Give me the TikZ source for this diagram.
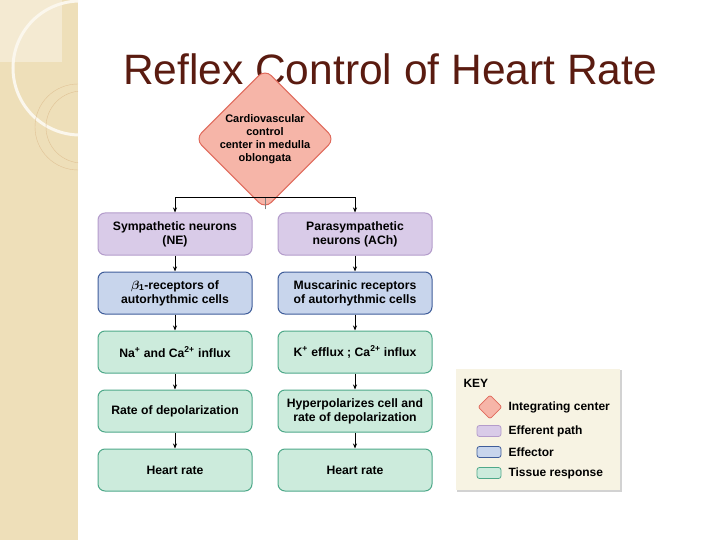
\documentclass[tikz,border=0pt]{standalone}
\usepackage{bm}
\usepackage{fontspec}
\setmainfont{Liberation Sans}
\usetikzlibrary{shapes.geometric,arrows.meta}
\definecolor{pfill}{HTML}{D9CBE8}\definecolor{pdraw}{HTML}{B49CCB}
\definecolor{bfill}{HTML}{C8D5EC}\definecolor{bdraw}{HTML}{3F5D9A}
\definecolor{gfill}{HTML}{CCEBDC}\definecolor{gdraw}{HTML}{4FA98A}
\definecolor{dfill}{HTML}{F6B5A8}\definecolor{ddraw}{HTML}{E06A5C}
\definecolor{beige}{HTML}{EEDFB9}\definecolor{title}{HTML}{5A1B10}
\definecolor{keybg}{HTML}{F7F3E3}
\begin{document}
\begin{tikzpicture}[x=1pt,y=-1pt,
 box/.style={rounded corners=7pt,line width=1pt,minimum width=154pt,minimum height=42pt,align=center,font=\bfseries\fontsize{12.2}{14}\selectfont,inner sep=1pt},
 eff/.style={box,fill=pfill,draw=pdraw},
 efr/.style={box,fill=bfill,draw=bdraw},
 tis/.style={box,fill=gfill,draw=gdraw},
 arr/.style={-{Stealth[length=5pt,width=4pt]},line width=0.7pt},
 ks/.style={rounded corners=2.5pt,line width=0.8pt,minimum width=24pt,minimum height=11pt,inner sep=0pt},
 kt/.style={anchor=west,font=\bfseries\fontsize{12}{14}\selectfont}]
\useasboundingbox (0,0) rectangle (720,540);
\fill[white] (0,0) rectangle (720,540);
\fill[beige] (0,0) rectangle (78,540);
\begin{scope}
\clip (0,0) rectangle (78,540);
\fill[white!35!beige] (0,0) rectangle (62,62);
\draw[white!75!beige,line width=3pt] (80,68) circle (67);
\draw[beige!70!brown,line width=0.4pt] (78,127) circle (43);
\draw[beige!70!brown,line width=0.4pt] (82,127) circle (36);
\end{scope}
\node[text=title,font=\fontsize{42.5}{48}\selectfont] (t) at (390,69) {Reflex Control of Heart Rate};
\node[diamond,fill=dfill,draw=ddraw,line width=1pt,rounded corners=9pt,minimum width=130pt,minimum height=104pt,inner sep=0pt,align=center,font=\bfseries\fontsize{11}{13}\selectfont] (d) at (265,139) {Cardiovascular\\control\\center in medulla\\oblongata};
\node[eff] (a1) at (175,234) {Sympathetic neurons\\(NE)};
\node[eff] (b1) at (355,234) {Parasympathetic\\neurons (ACh)};
\node[efr] (a2) at (175,293) {$\bm\beta_{\mathbf 1}$-receptors of\\autorhythmic cells};
\node[efr] (b2) at (355,293) {Muscarinic receptors\\of autorhythmic cells};
\node[tis] (a3) at (175,352) {Na\textsuperscript{+} and Ca\textsuperscript{2+} influx};
\node[tis] (b3) at (355,352) {K\textsuperscript{+} efflux ; Ca\textsuperscript{2+} influx};
\node[tis] (a4) at (175,411) {Rate of depolarization};
\node[tis] (b4) at (355,411) {Hyperpolarizes cell and\\rate of depolarization};
\node[tis] (a5) at (175,470) {Heart rate};
\node[tis] (b5) at (355,470) {Heart rate};
\coordinate (br) at (265,197);
\draw[line width=0.7pt,gray] (d.south) -- (br);
\draw[arr] (br) -| (a1.north);
\draw[arr] (br) -| (b1.north);
\foreach \c in {a,b}{
 \draw[arr] (\c1) -- (\c2);
 \draw[arr] (\c2) -- (\c3);
 \draw[arr] (\c3) -- (\c4);
 \draw[arr] (\c4) -- (\c5);}
\fill[gray!35] (457,370) rectangle (622,492);
\node[fill=keybg,minimum width=164pt,minimum height=121pt,inner sep=0pt] (key) at (537.5,429.5) {};
\node[anchor=west,font=\bfseries\fontsize{12}{14}\selectfont] (kk) at (460,383) {KEY};
\node[diamond,fill=dfill,draw=ddraw,line width=0.8pt,rounded corners=2pt,minimum width=24pt,minimum height=24pt,inner sep=0pt] (k1) at (490,407) {};
\node[kt] (k1t) at (505,407) {Integrating center};
\node[ks,fill=pfill,draw=pdraw] (k2) at (489,431) {};
\node[kt] (k2t) at (505,431) {Efferent path};
\node[ks,fill=bfill,draw=bdraw] (k3) at (489,452) {};
\node[kt] (k3t) at (505,452) {Effector};
\node[ks,fill=gfill,draw=gdraw] (k4) at (489,473) {};
\node[kt] (k4t) at (505,473) {Tissue response};
\end{tikzpicture}
\end{document}
